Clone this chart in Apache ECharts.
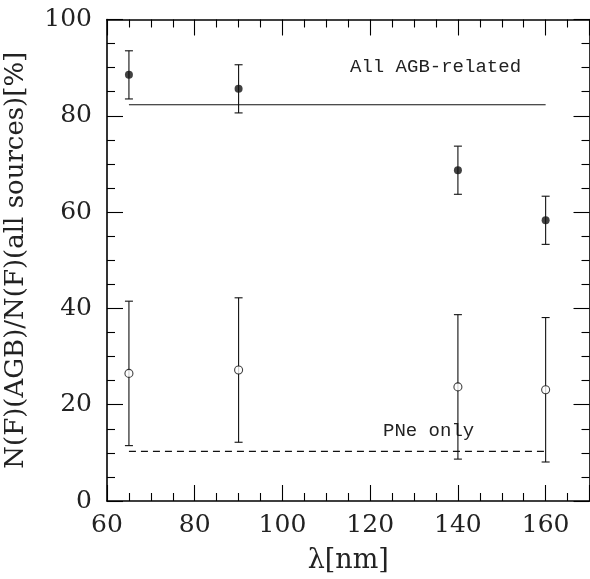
<!DOCTYPE html>
<html><head><meta charset="utf-8">
<script src="https://cdn.jsdelivr.net/npm/echarts@6/dist/echarts.min.js"></script>
<style>html,body{margin:0;padding:0;background:#fff}#c{width:590px;height:579px}</style>
</head><body><div id="c"></div>
<script>
const lambda = [65, 90, 140, 160];
const agbAll = [88.5, 85.6, 68.7, 58.3];
const agbErr = [5, 5, 5, 5];
const pneOnly = [26.5, 27.2, 23.7, 23.1];
const pneErr = [15, 15, 15, 15];
const allLevel = 82.3;
const pneLevel = 10.3;
const levelRange = [65, 160];

const SERIF = 'DejaVu Serif';
const chart = echarts.init(document.getElementById('c'), null, {renderer: 'canvas'});

function errData(vals, errs) {
  return lambda.map((x, i) => [x, vals[i] - errs[i], vals[i] + errs[i]]);
}
function renderErr(params, api) {
  const x = api.value(0), lo = api.value(1), hi = api.value(2);
  const pt = api.coord([x, hi]), pb = api.coord([x, lo]);
  const hw = 4;
  const st = {stroke: '#111', lineWidth: 1.1};
  return {type: 'group', children: [
    {type: 'line', shape: {x1: pt[0], y1: pt[1], x2: pb[0], y2: pb[1]}, style: st},
    {type: 'line', shape: {x1: pt[0] - hw, y1: pt[1], x2: pt[0] + hw, y2: pt[1]}, style: st},
    {type: 'line', shape: {x1: pb[0] - hw, y1: pb[1], x2: pb[0] + hw, y2: pb[1]}, style: st}
  ]};
}

function axis(extra, showLabel, labelMargin) {
  return Object.assign({
    type: 'value',
    axisLine: {show: true, onZero: false, lineStyle: {color: '#000', width: 1.6}},
    axisTick: {show: true, inside: true, length: 16, lineStyle: {color: '#000', width: 1.1}},
    minorTick: {show: true, splitNumber: 4, length: 8, lineStyle: {color: '#000', width: 1.1}},
    splitLine: {show: false},
    axisLabel: {show: showLabel, color: '#222', fontFamily: SERIF, fontSize: 25, margin: labelMargin,
      formatter: v => (v <= 160 ? String(v) : '')}
  }, extra);
}

chart.setOption({
  animation: false,
  backgroundColor: '#fff',
  grid: {left: 107, top: 19.5, right: 0.5, bottom: 78, containLabel: false, outerBoundsMode: 'none'},
  xAxis: [
    axis({min: 60, max: 170, interval: 20, position: 'bottom',
      name: 'λ[nm]', nameLocation: 'middle', nameGap: 46,
      nameTextStyle: {color: '#222', fontFamily: SERIF, fontSize: 27}}, true, 12),
    axis({min: 60, max: 170, interval: 20, position: 'top'}, false, 8)
  ],
  yAxis: [
    axis({min: 0, max: 100, interval: 20, position: 'left',
      name: 'N(F)(AGB)/N(F)(all sources)[%]', nameLocation: 'middle', nameGap: 78,
      nameTextStyle: {color: '#222', fontFamily: SERIF, fontSize: 26}}, true, 15),
    axis({min: 0, max: 100, interval: 20, position: 'right'}, false, 8)
  ],
  series: [
    {type: 'line', data: levelRange.map(x => [x, allLevel]), symbol: 'none',
      lineStyle: {color: '#111', width: 1.1}, silent: true},
    {type: 'line', data: levelRange.map(x => [x, pneLevel]), symbol: 'none',
      lineStyle: {color: '#111', width: 1.1, type: [7, 5]}, silent: true},
    {type: 'custom', renderItem: renderErr, data: errData(agbAll, agbErr), encode: {x: 0, y: [1, 2]}, z: 3},
    {type: 'custom', renderItem: renderErr, data: errData(pneOnly, pneErr), encode: {x: 0, y: [1, 2]}, z: 3},
    {type: 'scatter', data: lambda.map((x, i) => [x, agbAll[i]]), symbol: 'circle', symbolSize: 8,
      itemStyle: {color: '#111'}, z: 5},
    {type: 'scatter', data: lambda.map((x, i) => [x, pneOnly[i]]), symbol: 'circle', symbolSize: 8,
      itemStyle: {color: '#fff', borderColor: '#111', borderWidth: 1.1}, z: 5}
  ],
  graphic: [
    {type: 'text', left: 350, top: 57, style: {text: 'All AGB-related', fontFamily: 'Liberation Mono', fontSize: 19, fill: '#222'}},
    {type: 'text', left: 383, top: 421, style: {text: 'PNe only', fontFamily: 'Liberation Mono', fontSize: 19, fill: '#222'}}
  ]
});
</script></body></html>
